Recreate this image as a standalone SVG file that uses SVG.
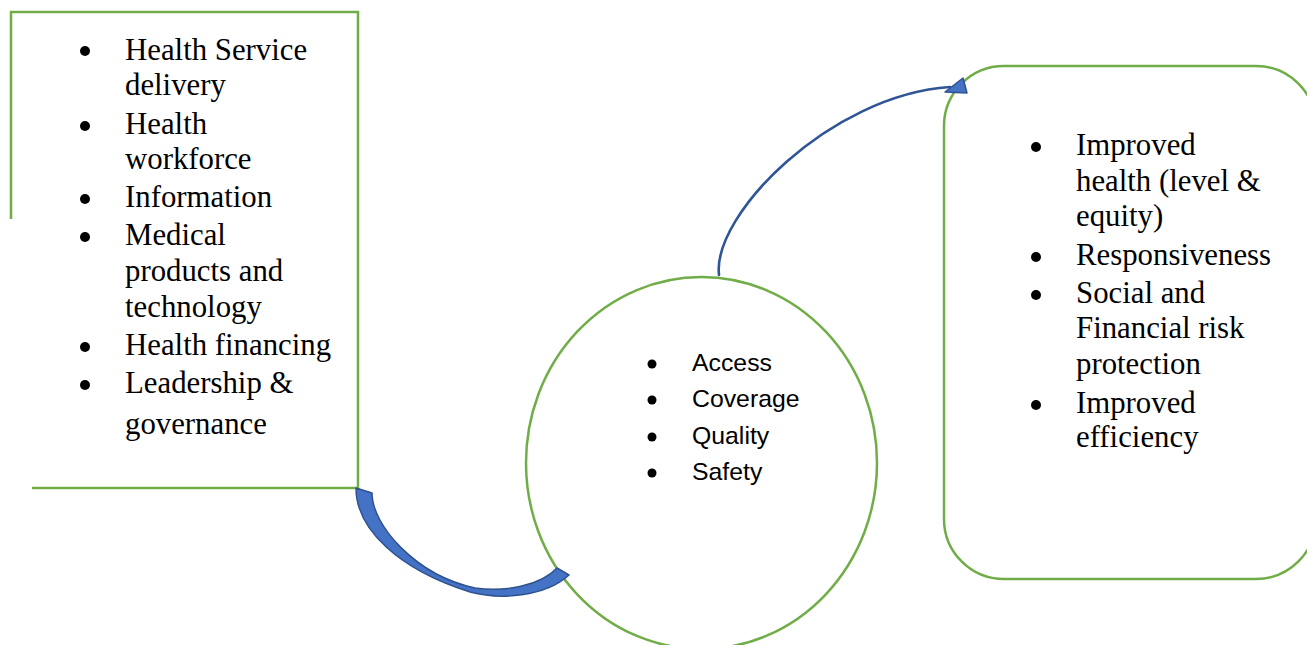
<svg xmlns="http://www.w3.org/2000/svg" width="1307" height="645" viewBox="0 0 1307 645">
<style>
.box{fill:none;stroke:#70AD47;stroke-width:2.5}
.serif{font-family:"Liberation Serif","Times New Roman",serif;font-size:30.8px;fill:#000}
.sans{font-family:"Liberation Sans",Arial,sans-serif;font-size:24.8px;fill:#000}
.dot{fill:#000}
.thin{fill:none;stroke:#2F5597;stroke-width:2.6;stroke-linecap:round}
.head{fill:#4472C4;stroke:#2F528F;stroke-width:1.5;stroke-linejoin:round}
</style>
<rect width="1307" height="645" fill="#fff"/>
<g id="inputs">
<path class="box" d="M11,219 V12 H358 V488 H32"/>
<circle class="dot" cx="85" cy="51" r="5"/>
<text class="serif" x="125" y="60">Health Service</text>
<text class="serif" x="125" y="95">delivery</text>
<circle class="dot" cx="85" cy="126" r="5"/>
<text class="serif" x="125" y="134">Health</text>
<text class="serif" x="125" y="169">workforce</text>
<circle class="dot" cx="85" cy="199" r="5"/>
<text class="serif" x="125" y="207">Information</text>
<circle class="dot" cx="85" cy="237" r="5"/>
<text class="serif" x="125" y="245">Medical</text>
<text class="serif" x="125" y="281">products and</text>
<text class="serif" x="125" y="317">technology</text>
<circle class="dot" cx="85" cy="347" r="5"/>
<text class="serif" x="125" y="355">Health financing</text>
<circle class="dot" cx="85" cy="385" r="5"/>
<text class="serif" x="125" y="393">Leadership &amp;</text>
<text class="serif" x="125" y="434">governance</text>
</g>
<g id="outputs">
<ellipse class="box" cx="701.5" cy="463" rx="175.5" ry="186"/>
<circle class="dot" cx="652" cy="364" r="4.5"/>
<text class="sans" x="692" y="371">Access</text>
<circle class="dot" cx="652" cy="400" r="4.5"/>
<text class="sans" x="692" y="407">Coverage</text>
<circle class="dot" cx="652" cy="437" r="4.5"/>
<text class="sans" x="692" y="444">Quality</text>
<circle class="dot" cx="652" cy="473" r="4.5"/>
<text class="sans" x="692" y="480">Safety</text>
</g>
<g id="outcomes">
<rect class="box" x="944" y="66" width="372" height="513" rx="60" ry="60"/>
<circle class="dot" cx="1036" cy="147" r="5"/>
<text class="serif" x="1076" y="155">Improved</text>
<text class="serif" x="1076" y="191">health (level &amp;</text>
<text class="serif" x="1076" y="226">equity)</text>
<circle class="dot" cx="1036" cy="257" r="5"/>
<text class="serif" x="1076" y="265">Responsiveness</text>
<circle class="dot" cx="1036" cy="295" r="5"/>
<text class="serif" x="1076" y="303">Social and</text>
<text class="serif" x="1076" y="338">Financial risk</text>
<text class="serif" x="1076" y="374">protection</text>
<circle class="dot" cx="1036" cy="405" r="5"/>
<text class="serif" x="1076" y="413">Improved</text>
<text class="serif" x="1076" y="447">efficiency</text>
</g>
<g id="connectors">
<path class="head" d="M356,488 C356,530 400,570 470,592 C500,600 545,597 569,575 L557,568 C540,586 505,592 475,588 C415,575 372,525 372,493 Z"/>
<path class="thin" d="M719,275 C712,215 830,95 950,87"/>
<path class="head" d="M945,92 L963,78 L967,93 Z"/>
</g>
</svg>
